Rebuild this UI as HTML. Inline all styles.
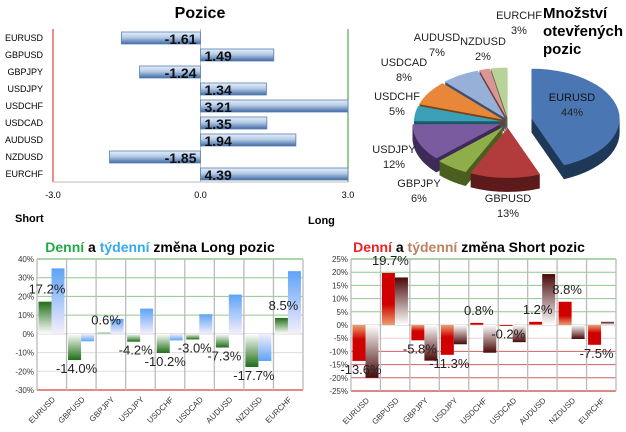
<!DOCTYPE html>
<html><head><meta charset="utf-8">
<style>
body{margin:0;background:#fff;}
svg{display:block;font-family:"Liberation Sans",sans-serif;}
</style></head>
<body>
<svg id="s" width="626" height="432" viewBox="0 0 626 432">
<defs>
<linearGradient id="gBlueBar" x1="0" y1="0" x2="0" y2="1">
<stop offset="0" stop-color="#e4eefa"/><stop offset="0.45" stop-color="#b7cbe6"/><stop offset="1" stop-color="#3f6aa6"/></linearGradient>
<linearGradient id="gGreenPos" x1="0" y1="0" x2="0" y2="1"><stop offset="0" stop-color="#1f6e16"/><stop offset="1" stop-color="#ffffff"/></linearGradient>
<linearGradient id="gGreenNeg" x1="0" y1="1" x2="0" y2="0"><stop offset="0" stop-color="#1f6e16"/><stop offset="1" stop-color="#ffffff"/></linearGradient>
<linearGradient id="gBluePos" x1="0" y1="0" x2="0" y2="1"><stop offset="0" stop-color="#5ea3f7"/><stop offset="1" stop-color="#f6eefc"/></linearGradient>
<linearGradient id="gBlueNeg" x1="0" y1="1" x2="0" y2="0"><stop offset="0" stop-color="#5ea3f7"/><stop offset="1" stop-color="#f6eefc"/></linearGradient>
<linearGradient id="gRedPos" x1="0" y1="0" x2="0" y2="1"><stop offset="0" stop-color="#d10000"/><stop offset="0.6" stop-color="#d10000"/><stop offset="1" stop-color="#e8a070"/></linearGradient>
<linearGradient id="gRedNeg" x1="0" y1="1" x2="0" y2="0"><stop offset="0" stop-color="#d10000"/><stop offset="0.6" stop-color="#d10000"/><stop offset="1" stop-color="#e8a070"/></linearGradient>
<linearGradient id="gDarkPos" x1="0" y1="0" x2="0" y2="1"><stop offset="0" stop-color="#4a0808"/><stop offset="1" stop-color="#ffffff"/></linearGradient>
<linearGradient id="gDarkNeg" x1="0" y1="1" x2="0" y2="0"><stop offset="0" stop-color="#4a0808"/><stop offset="1" stop-color="#ffffff"/></linearGradient>
</defs>
<g id="pos"></g>
<g id="pie"></g>
<g id="lc"></g>
<g id="sc"></g>
</svg>
<script>
const NS="http://www.w3.org/2000/svg";
function mk(p,t,a,txt){const e=document.createElementNS(NS,t);for(const k in a)e.setAttribute(k,a[k]);if(txt!==undefined)e.textContent=txt;p.appendChild(e);return e;}

// ---------- Positions chart data ----------
const posPairs=["EURUSD","GBPUSD","GBPJPY","USDJPY","USDCHF","USDCAD","AUDUSD","NZDUSD","EURCHF"];
const posValues=[-1.61,1.49,-1.24,1.34,3.21,1.35,1.94,-1.85,4.39];
const posTicks=[-3.0,0.0,3.0];

// ---------- Pie data ----------
const pieLabels=["EURUSD","GBPUSD","GBPJPY","USDJPY","USDCHF","USDCAD","AUDUSD","NZDUSD","EURCHF"];
const pieValues=[44,13,6,12,5,8,7,2,3];

// ---------- Long change data ----------
const chgPairs=["EURUSD","GBPUSD","GBPJPY","USDJPY","USDCHF","USDCAD","AUDUSD","NZDUSD","EURCHF"];
const longDaily=[17.2,-14.0,0.6,-4.2,-10.2,-3.0,-7.3,-17.7,8.5];
const longWeekly=[35,-4,8,13.5,-3.5,10.5,21,-14.5,33.5];
const longTicks=[40,30,20,10,0,-10,-20,-30];

// ---------- Short change data ----------
const shortDaily=[-13.6,19.7,-5.8,-11.3,0.8,-0.2,1.2,8.8,-7.5];
const shortWeekly=[-20,18,-13.5,-7.3,-10.5,-6.5,19.3,-5.3,1.2];
const shortTicks=[25,20,15,10,5,0,-5,-10,-15,-20,-25];

// ===== Positions chart =====
(function(){
const g=document.getElementById('pos');
const x0=53,x1=348,vmin=-3,vmax=3;
const X=v=>x0+(Math.max(vmin,Math.min(vmax,v))-vmin)/(vmax-vmin)*(x1-x0);
const Y=i=>38+i*17;
let t=mk(g,'text',{x:200,y:18,'text-anchor':'middle','font-size':16,'font-weight':'bold'},'Pozice');

let l=mk(g,'line',{x1:x0,y1:29,x2:x0,y2:182,stroke:'#d02020','stroke-width':1});

l=mk(g,'line',{x1:x1,y1:29,x2:x1,y2:182,stroke:'#2a9a2a','stroke-width':1});

l=mk(g,'line',{x1:X(0),y1:29,x2:X(0),y2:182,stroke:'#bbb','stroke-width':1});

l=mk(g,'line',{x1:x0,y1:182,x2:x1,y2:182,stroke:'#bbb','stroke-width':1});

posTicks.forEach(v=>{const e=mk(g,'text',{x:X(v),y:198,'text-anchor':'middle','font-size':9},v.toFixed(1));
});
posPairs.forEach((p,i)=>{
 const v=posValues[i],y=Y(i);
 const e=mk(g,'text',{x:43,y:y+3,'text-anchor':'end','font-size':9},p);
 
 const a=X(0),b=X(v);
 const r=mk(g,'rect',{x:Math.min(a,b),y:y-6,width:Math.abs(b-a),height:12,fill:'url(#gBlueBar)',stroke:'#5a7fb3','stroke-width':0.8});
 
 const lt=mk(g,'text',{x:v<0?a-4:a+4,y:y+6,'text-anchor':v<0?'end':'start','font-size':14,'font-weight':'bold',fill:'#111'},v.toFixed(2));
 
});
t=mk(g,'text',{x:15,y:222,'font-size':11,'font-weight':'bold'},'Short');

t=mk(g,'text',{x:308,y:224,'font-size':11,'font-weight':'bold'},'Long');

})();

// ===== Pie =====
(function(){
const g=document.getElementById('pie');
const cx=508,cy=122,rx=88,ry=50,depth=14;
const cols=['#4a77b4','#b23c3c','#8fae4a','#7b5ba0','#3aa0b8','#e8873a','#97b0d8','#d99694','#b8d39a'];
const dark=['#1f3858','#5c1a1a','#4a5e20','#3e2b58','#1a5a68','#7a4010','#3f4f70','#704040','#5a7040'];
const explode=[24,8,8,8,6,6,6,6,6];
const total=pieValues.reduce((a,b)=>a+b,0);
let ang=0;const sl=[];
pieValues.forEach((v,i)=>{const a0=ang,a1=ang+v/total*2*Math.PI;ang=a1;sl.push({i,a0,a1,m:(a0+a1)/2});});
const P=(t,ox,oy)=>[cx+ox+rx*Math.sin(t),cy+oy-ry*Math.cos(t)];
function path(s,dy){
 const ox=explode[s.i]*Math.sin(s.m),oy=-explode[s.i]*Math.cos(s.m)*ry/rx*1.3+dy;
 let d='M'+(cx+ox)+' '+(cy+oy);
 const n=30;for(let k=0;k<=n;k++){const t=s.a0+(s.a1-s.a0)*k/n;const p=P(t,ox,oy);d+=' L'+p[0].toFixed(1)+' '+p[1].toFixed(1);}
 return d+'Z';}
const order=sl.slice().sort((a,b)=>(-Math.cos(a.m))-(-Math.cos(b.m)));
order.forEach(s=>{
 for(let d=depth;d>0;d-=1){const e=mk(g,'path',{d:path(s,d),fill:dark[s.i]});
  }
 const e=mk(g,'path',{d:path(s,0),fill:cols[s.i]});
 
});
const lp=[[572,101],[508,202],[419,187],[394,153],[397,100],[404,66],[437,41],[483,45],[519,19]];
pieLabels.forEach((n,i)=>{
 const e=mk(g,'text',{x:lp[i][0],y:lp[i][1],'text-anchor':'middle','font-size':11,fill:i==0?'#111':'#222'},n);
 
 const f=mk(g,'text',{x:lp[i][0],y:lp[i][1]+15,'text-anchor':'middle','font-size':11,fill:'#222'},pieValues[i]+'%');
 
});
['Množství','otevřených','pozic'].forEach((s,k)=>{const e=mk(g,'text',{x:543,y:18+k*18,'font-size':15,'font-weight':'bold'},s);
 });
})();

// ===== Change charts =====
function changeChart(g,o){
 const {left,right,top,bottom,vmax,vmin,ticks,daily,weekly}=o;
 const Y=v=>top+(vmax-v)/(vmax-vmin)*(bottom-top);
 const cw=(right-left)/chgPairs.length;
 // title
 const t=mk(g,'text',{x:o.tx,y:252,'text-anchor':'middle','font-size':14,'font-weight':'bold'});
 
 mk(t,'tspan',{fill:o.c1},'Denní');mk(t,'tspan',{fill:'#000'},' a ');mk(t,'tspan',{fill:o.c2},'týdenní');mk(t,'tspan',{fill:'#000'},o.rest);
 ticks.forEach(v=>{
  const col=v>0?'#8fc88f':(v<0?o.negGrid(v):'#ccc');
  const e=mk(g,'line',{x1:left,x2:right,y1:Y(v),y2:Y(v),stroke:col,'stroke-width':(v==vmax||v==vmin)?1.5:1});
  
  const lb=mk(g,'text',{x:left-3,y:Y(v)+3,'text-anchor':'end','font-size':8,fill:'#333'},v+'%');
  
 });
 for(let i=0;i<=chgPairs.length;i++){const e=mk(g,'line',{x1:left+i*cw,x2:left+i*cw,y1:top,y2:bottom,stroke:'#bbb','stroke-width':1.3});
  }
 chgPairs.forEach((p,i)=>{
  const x=left+i*cw;
  [[daily[i],x+1.5,o.dPos,o.dNeg,'daily-bar'],[weekly[i],x+14.5,o.wPos,o.wNeg,'weekly-bar']].forEach(([v,bx,gp,gn,nm])=>{
   const y0=Y(0),y1=Y(v);
   const r=mk(g,'rect',{x:bx,y:Math.min(y0,y1),width:13,height:Math.max(1,Math.abs(y1-y0)),fill:v>=0?gp:gn});
   
  });
  const v=daily[i];
  const ly=v>=0?Y(v)-8:Y(v)+13;
  const lt=mk(g,'text',{x:x+10,y:ly,'text-anchor':'middle','font-size':13,fill:'#222'},v.toFixed(1)+'%');
  
  const cl=mk(g,'text',{x:x+cw/2+4,y:bottom+10,'text-anchor':'end','font-size':8,fill:'#333',transform:`rotate(-45 ${x+cw/2+4} ${bottom+10})`},p);
  
 });
}
changeChart(document.getElementById('lc'),{left:37,right:303,top:259,bottom:390,vmax:40,vmin:-30,ticks:longTicks,
 daily:longDaily,weekly:longWeekly,tx:160,c1:'#22aa44',c2:'#33aaee',rest:' změna Long pozic',
 negGrid:v=>v==-30?'#e06060':'#ddd',dPos:'url(#gGreenPos)',dNeg:'url(#gGreenNeg)',wPos:'url(#gBluePos)',wNeg:'url(#gBlueNeg)'});
changeChart(document.getElementById('sc'),{left:351,right:616,top:259,bottom:391,vmax:25,vmin:-25,ticks:shortTicks,
 daily:shortDaily,weekly:shortWeekly,tx:469,c1:'#ee2222',c2:'#c08060',rest:' změna Short pozic',
 negGrid:v=>v==-5?'#f0d0d0':'#d06060',dPos:'url(#gRedPos)',dNeg:'url(#gRedNeg)',wPos:'url(#gDarkPos)',wNeg:'url(#gDarkNeg)'});
</script>
</body></html>
